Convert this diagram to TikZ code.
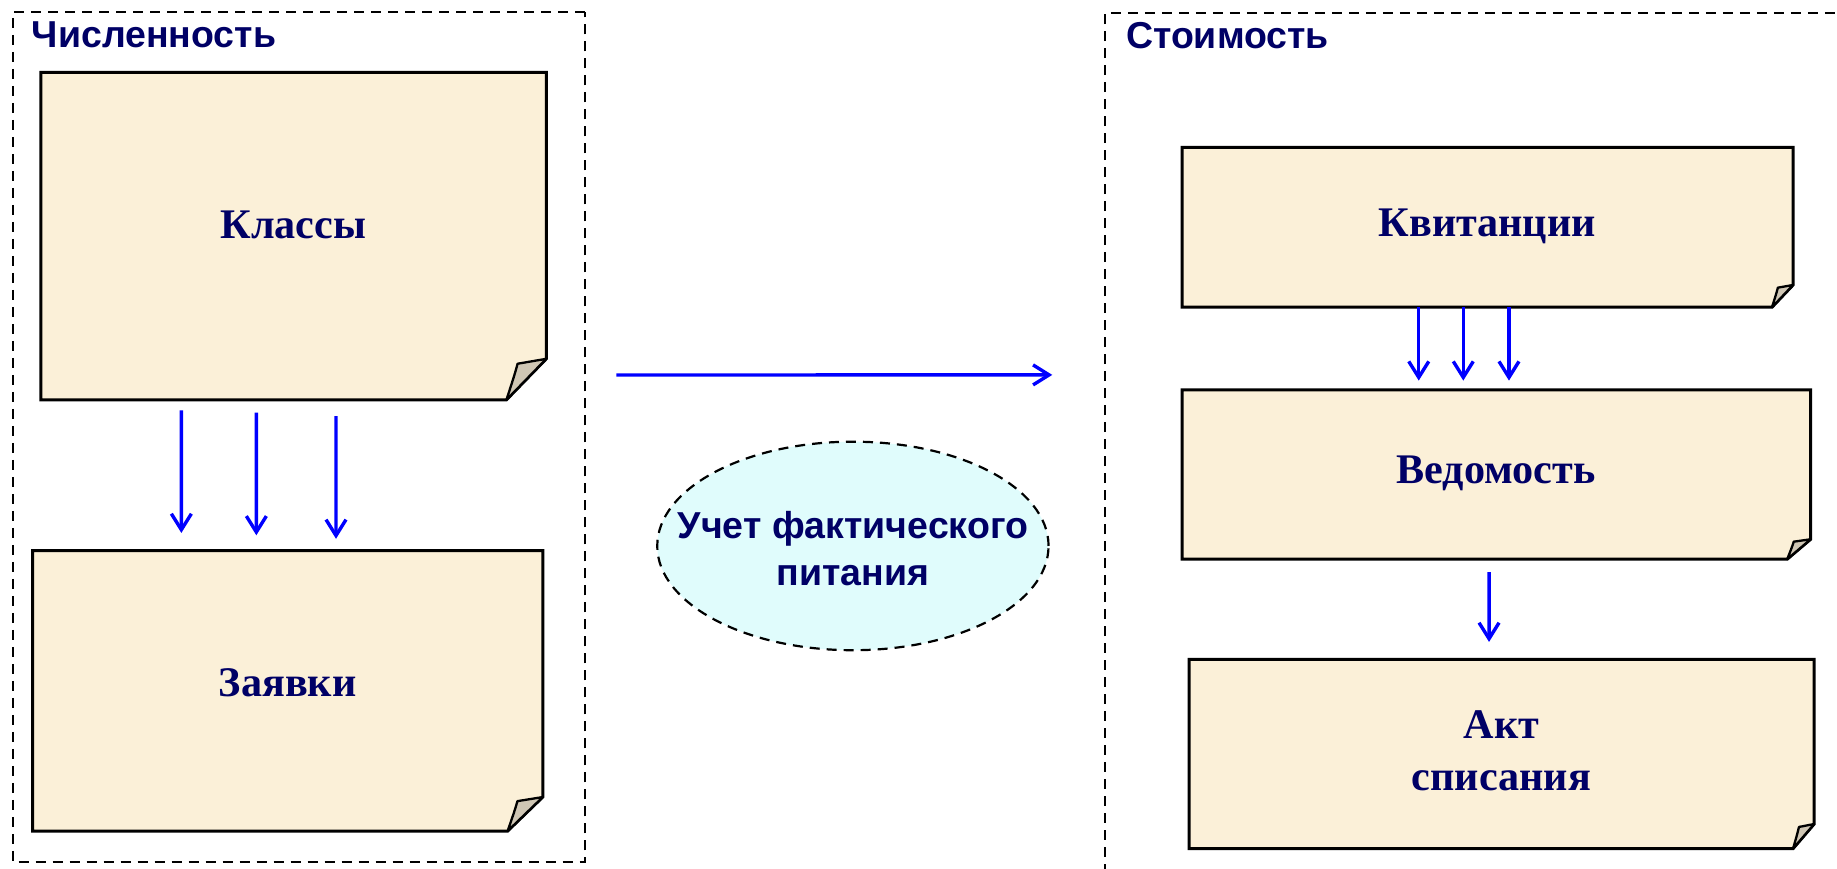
\documentclass[tikz,border=0pt]{standalone}
\usepackage{fontspec}
\setmainfont{Liberation Serif}
\newfontfamily\sansf{Liberation Sans}
\usetikzlibrary{calc,shapes.geometric,arrows.meta}
\definecolor{navy}{HTML}{000066}
\definecolor{paper}{HTML}{FBF0D8}
\definecolor{flap}{HTML}{CFC6B4}
\definecolor{cyanf}{HTML}{E0FCFC}
\pgfdeclarelayer{bg}
\pgfsetlayers{bg,main}
\tikzset{
  notebox/.style={inner sep=0pt, font=\fontsize{36}{45}\selectfont\bfseries, text=navy, align=center},
  framebox/.style={draw=black, line width=2.2pt, dash pattern=on 10pt off 7pt},
  title/.style={anchor=west, inner sep=0pt, font=\sansf\fontsize{32}{36}\selectfont\bfseries, text=navy},
  arr/.style={draw=blue, line width=3.4pt, -{Straight Barb[length=16pt,width=20pt,line width=3.4pt]}},
  ovalbox/.style={ellipse, draw=black, line width=2.2pt, dash pattern=on 10pt off 7pt, fill=cyanf, inner sep=0pt},
  ovaltext/.style={align=center, inner sep=0pt, font=\sansf\fontsize{32}{40}\selectfont\bfseries, text=navy}
}
\newcommand\drawnote[3]{%
  \begin{pgfonlayer}{bg}
  \filldraw[fill=paper, draw=black, line width=3pt, line join=miter]
    (#1.north west) -- (#1.north east) -- ($(#1.south east)+(0,-#3)$)
    -- ($(#1.south east)+(-#2,0)$) -- (#1.south west) -- cycle;
  \filldraw[fill=flap, draw=black, line width=2.3pt, line join=round]
    ($(#1.south east)+(0,-#3)$) -- ($(#1.south east)+(-0.72*#2,-0.88*#3)$)
    .. controls ($(#1.south east)+(-0.8*#2,-0.6*#3)$) .. ($(#1.south east)+(-#2,0)$) -- cycle;
  \end{pgfonlayer}}
\begin{document}
\begin{tikzpicture}[x=1pt, y=-1pt, scale=1.1716, every node/.append style={transform shape}]
\useasboundingbox (0,0) rectangle (1568,741.7);

% frames
\node[framebox, minimum width=488pt, minimum height=726pt, inner sep=0pt] (lframe) at (255,373) {};
\coordinate (rframe) at (943,11);
\draw[framebox] ($(rframe)+(0,735)$) -- (rframe) -- ($(rframe)+(630,0)$);

\node[title] (tnum) at (27,30) {Численность};
\node[title] (tcost) at (961,30) {Стоимость};

% notes
\node[notebox, minimum width=431pt, minimum height=279pt] (klassy) at (250.5,201.5) {\raisebox{20pt}{Классы}};
\drawnote{klassy}{34}{35}
\node[notebox, minimum width=435pt, minimum height=239pt] (zayavki) at (245.5,589.5) {\raisebox{14pt}{Заявки}};
\drawnote{zayavki}{30}{29}
\node[notebox, minimum width=521pt, minimum height=136pt] (kvit) at (1269.5,194) {\raisebox{8pt}{Квитанции}};
\drawnote{kvit}{18}{19}
\node[notebox, minimum width=536pt, minimum height=144pt] (ved) at (1277,405) {\raisebox{9pt}{Ведомость}};
\drawnote{ved}{20}{17}
\node[notebox, minimum width=533pt, minimum height=161pt] (akt) at (1281.5,643.5) {\raisebox{6pt}{\begin{tabular}{@{}c@{}}Акт\\списания\end{tabular}}};
\drawnote{akt}{18}{21}

% oval
\node[ovalbox, minimum width=334pt, minimum height=178pt] (oval) at (728,466) {};
\node[ovaltext] (ovaltxt) at (728,468) {Учет фактического\\питания};

% arrows
\draw[arr] ($(klassy.south west)+(120,9)$) -- ($(zayavki.north west)+(127,-15)$);
\draw[arr] ($(klassy.south west)+(184,11)$) -- ($(zayavki.north west)+(191,-13)$);
\draw[arr] ($(klassy.south west)+(252,14)$) -- ($(zayavki.north west)+(259,-10)$);

\draw[arr] ($(kvit.south west)+(202,0)$) -- ($(ved.north west)+(202,-8)$);
\draw[arr] ($(kvit.south west)+(240,0)$) -- ($(ved.north west)+(240,-8)$);
\draw[arr] ($(kvit.south west)+(279,0)$) -- ($(ved.north west)+(279,-8)$);

\draw[arr] ($(ved.south west)+(262,11)$) -- ($(akt.north west)+(256,-15)$);

\draw[arr] ($(lframe.east)+(26,-53)$) -- ($(rframe)+(-45,309)$);
\end{tikzpicture}
\end{document}
